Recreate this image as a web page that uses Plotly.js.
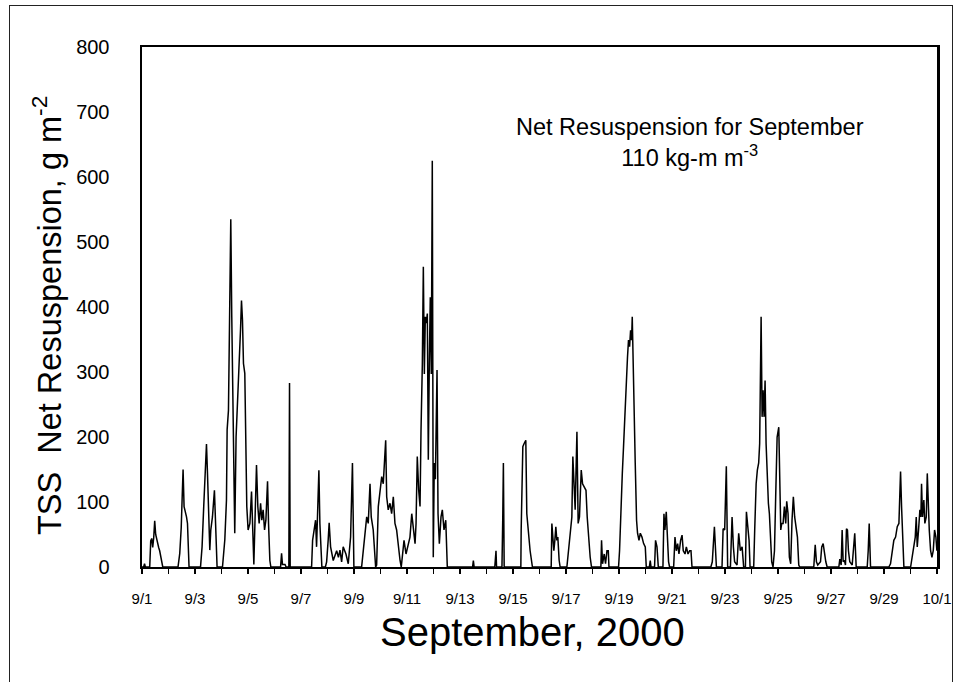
<!DOCTYPE html>
<html>
<head>
<meta charset="utf-8">
<script src="https://cdn.plot.ly/plotly-3.0.1.min.js"></script>
<style>
  html, body { margin: 0; padding: 0; background: #fff; }
  #wrap { position: relative; width: 961px; height: 682px; overflow: hidden; }
  #chart { position: absolute; left: 0; top: 0; width: 961px; height: 682px; }
  #frame { position: absolute; left: 9px; top: 5px; width: 942px; height: 700px;
           border: 1.5px solid #222; pointer-events: none; }
</style>
</head>
<body>
<div id="wrap">
  <div id="chart"></div>
  <div id="frame"></div>
</div>
<script>
// Hours elapsed since 2000-09-01 00:00
const hours = [
  0,1.5,2.3,3.0,
  7.0,7.9,8.8,9.7,10.6,11.5,12.4,13.3,14.2,15.1,16.0,16.9,17.8,18.8,
  32.6,34.2,35.5,36.3,37.2,38.1,39.3,40.3,41.2,41.7,42.6,
  53.0,54.4,55.9,57.5,58.4,59.3,60.5,61.4,62.3,63.8,65.6,66.8,68.0,
  72.9,75.0,76.5,77.1,78.3,79.5,80.4,81.3,82.2,83.1,84.0,85.2,86.5,87.7,89.2,90.1,91.0,91.9,93.1,94.0,94.9,96.1,97.7,
  99.2,100.1,101.3,102.5,103.7,104.9,106.1,107.4,108.5,109.7,111.0,112.2,113.7,114.6,115.8,116.7,
  125.5,126.4,127.2,129.5,130.5,
  133.0,133.6,134.2,
  153.6,154.5,155.7,157.2,158.1,159.3,160.2,161.1,162.0,162.9,
  166.1,167.2,168.6,169.5,170.8,173.2,176.3,177.9,179.3,180.8,182.2,184.7,186.8,188.9,190.6,191.9,
  198.9,200.4,201.9,203.5,204.9,206.5,207.6,209.4,211.6,
  212.5,214.0,215.5,217.1,218.5,219.8,220.7,221.6,223.0,224.6,226.1,227.6,229.1,230.6,232.1,233.7,234.8,
  236.1,237.3,239.1,240.9,242.7,244.3,245.7,247.3,248.2,
  249.3,250.6,251.8,252.7,253.9,254.8,255.7,256.6,257.5,258.4,259.3,260.2,261.1,262.0,262.9,263.8,264.7,265.7,267.2,268.1,269.3,270.8,272.0,273.5,275.1,276.5,
  299.4,300.1,300.8,319.5,320.2,320.6,321.1,326.0,326.7,327.3,328.0,
  343.1,343.4,344.0,344.9,346.1,347.6,348.5,350.0,351.5,353.6,
  370.6,371.2,372.1,373.0,373.9,374.8,375.7,376.6,377.8,378.7,
  384.8,386.3,387.8,389.3,390.2,391.4,392.3,393.9,395.0,396.2,397.8,399.0,400.5,402.1,403.2,404.4,405.9,407.1,
  415.6,416.2,417.1,418.6,419.8,421.1,422.3,422.9,
  431.6,432.5,433.8,435.0,436.1,437.4,438.6,439.7,440.6,441.6,442.5,443.4,444.0,444.9,445.5,446.7,447.9,448.8,450.1,451.3,452.8,454.3,455.8,456.7,
  459.5,460.3,461.0,464.2,465.1,466.4,467.6,471.8,472.7,473.6,474.8,475.7,476.9,477.8,
  481.5,482.7,483.9,485.1,486.3,487.8,489.1,490.2,491.8,493.0,494.5,496.0,497.2,498.1,
  515.2,516.5,518.4,520.2,
  525.3,526.3,527.7,529.2,530.4,532.9,534.4,535.6,536.7,538.9,540.4,541.9,543.5,544.9,
  546.5,547.4,548.5,549.8,550.7,
  554.0,554.9,556.2,557.3,558.5,559.4,560.7,561.6,562.5,563.4,564.3,565.2,566.1,567.3,568.2,569.1,570.3,571.5,
  572.8,573.9,575.2,576.7,577.6,578.5,579.4,
  580.6,581.8,583.0,583.9,585.1,586.3,587.5,588.7,589.9,591.1,592.4,593.6,594.8,595.7,
  608.4,609.7,610.8,612.0,614.5,615.6,616.9,618.1,619.3,620.5,
  631.1,632.0,633.2,634.1,635.0,636.2,637.1,638.0,638.9,639.8,641.0,643.2,645.5,646.8,
  656.8,657.7,658.6,659.8,
  676.4,677.9,679.5,680.9,682.5,684.0,685.5,687.0,687.9,688.8,690.0,
  696.1,697.6,699.1,700.3,701.2,702.1,703.3,704.5,705.4,706.0,706.9,708.1,709.0,710.3,711.2,712.1,713.0,714.2,715.4,716.6,717.8,719.0,719.9
];

// TSS net resuspension, g m^-2
const resuspension = [
  0,0,5,0,
  0,40,44,30,45,71,50,42,35,30,25,15,8,0,
  0,21,60,93,150,93,86,77,67,46,0,
  0,31,93,149,189,144,67,26,57,77,118,57,0,
  0,42,103,211,241,390,535,385,270,118,52,200,270,303,364,410,380,313,298,185,93,57,67,
  116,57,4,82,157,93,67,98,72,88,57,72,132,67,10,0,
  0,21,4,4,0,
  0,283,0,
  0,41,57,72,31,82,149,67,36,0,
  0,8,41,68,31,10,25,15,26,8,31,20,5,46,160,0,
  0,25,46,77,67,128,77,57,0,
  3,93,118,139,128,170,195,108,88,98,82,108,67,57,31,10,0,
  25,41,20,31,46,82,57,36,67,
  170,118,93,211,313,462,297,385,375,390,165,313,415,297,625,15,160,135,303,82,36,77,88,57,72,0,
  0,10,0,0,10,25,0,0,72,160,0,
  0,57,98,185,190,195,82,46,25,0,
  0,67,46,25,41,62,41,46,10,0,
  0,25,46,77,170,118,88,208,67,77,149,128,123,118,77,46,15,0,
  0,41,5,20,5,25,25,0,
  0,25,98,144,185,241,272,323,349,339,364,349,385,303,210,160,72,52,41,52,46,36,31,0,
  0,10,0,0,41,31,0,0,82,57,85,41,8,0,
  0,46,25,36,20,41,49,25,20,31,20,25,25,0,
  0,8,62,0,
  0,59,57,155,0,0,77,31,8,3,52,25,31,0,
  0,85,57,41,0,
  0,57,128,149,160,190,385,231,272,231,287,190,139,98,82,36,8,0,
  25,108,200,215,123,57,67,
  67,93,67,101,82,15,5,72,108,77,62,46,3,0,
  0,34,8,3,8,31,36,20,8,0,
  0,12,3,57,8,10,3,59,57,25,8,3,52,0,
  0,25,67,0,
  0,5,25,41,46,62,67,147,93,57,0,
  0,15,36,46,77,31,57,88,77,128,77,103,67,77,144,82,57,25,15,25,57,46,25
];

const startDate = Date.UTC(2000, 8, 1);
const xDates = hours.map(h => new Date(startDate + h * 3600000).toISOString().slice(0, 19).replace('T', ' '));

const yTickVals = [0, 100, 200, 300, 400, 500, 600, 700, 800];
const noteText = 'Net Resuspension for September<br>110 kg-m m<sup>-3</sup>';
const xTitle = 'September, 2000';
const yTitle = 'TSS\u00a0 Net Resuspension, g m<sup>-2</sup>';

const FONT = 'Arial, "Liberation Sans", sans-serif';

const trace = {
  x: xDates,
  y: resuspension,
  type: 'scatter',
  mode: 'lines',
  line: { color: '#000', width: 1.5 },
  hoverinfo: 'x+y'
};

const layout = {
  width: 961,
  height: 682,
  margin: { l: 142, r: 24, t: 47, b: 115 },
  paper_bgcolor: '#fff',
  plot_bgcolor: '#fff',
  showlegend: false,
  font: { family: FONT, color: '#000' },
  xaxis: {
    type: 'date',
    range: ['2000-09-01 00:00', '2000-10-01 00:00'],
    tick0: '2000-09-01',
    dtick: 2 * 86400000,
    tickformat: '%-m/%-d',
    ticks: 'outside',
    ticklen: 5,
    tickwidth: 1.5,
    tickcolor: '#000',
    minor: { dtick: 86400000, ticks: 'outside', ticklen: 5, tickwidth: 1.5, tickcolor: '#000' },
    ticklabelstandoff: 12,
    tickfont: { size: 15, family: FONT },
    showgrid: false,
    zeroline: false,
    showline: true,
    linecolor: '#000',
    linewidth: 2,
    mirror: true
  },
  yaxis: {
    range: [0, 800],
    tickvals: yTickVals,
    ticks: 'outside',
    ticklen: 26,
    tickcolor: 'rgba(0,0,0,0)',
    tickfont: { size: 20, family: FONT },
    showgrid: false,
    zeroline: false,
    showline: true,
    linecolor: '#000',
    linewidth: 2.5,
    mirror: true
  },
  annotations: [
    {
      xref: 'paper', yref: 'paper',
      x: 0.689, y: 0.817,
      xanchor: 'center', yanchor: 'middle',
      text: noteText,
      showarrow: false,
      align: 'center',
      font: { size: 23.5, family: FONT, color: '#000' }
    },
    {
      xref: 'paper', yref: 'paper',
      x: (532 - 142) / 795, y: -(632 - 567) / 520,
      xanchor: 'center', yanchor: 'middle',
      text: xTitle,
      showarrow: false,
      font: { size: 40, family: FONT, color: '#000' }
    },
    {
      xref: 'paper', yref: 'paper',
      x: (47 - 142) / 795, y: (567 - 316) / 520,
      xanchor: 'center', yanchor: 'middle',
      text: yTitle,
      textangle: -90,
      showarrow: false,
      font: { size: 32.5, family: FONT, color: '#000' }
    }
  ]
};

Plotly.newPlot('chart', [trace], layout, { displayModeBar: false, staticPlot: true });
</script>
</body>
</html>
